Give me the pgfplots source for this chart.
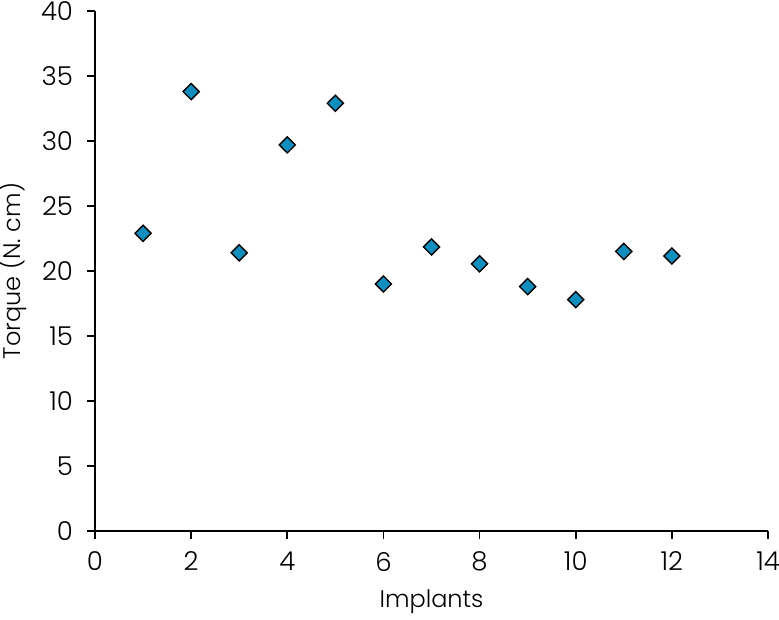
\documentclass[border=0pt]{standalone}
\usepackage{fontspec}
\setmainfont{Poppins}[UprightFont={* Light}]
\usepackage{pgfplots}
\pgfplotsset{compat=1.18}
\definecolor{mk}{HTML}{108EBE}
\begin{document}
\begin{tikzpicture}
\begin{axis}[
  scale only axis, width=336.5pt, height=260pt,
  at={(0,0)}, anchor=south west,
  xmin=0, xmax=14, ymin=0, ymax=40,
  xtick={0,2,...,14}, ytick={0,5,...,40},
  axis x line*=bottom, axis y line*=left,
  axis line style={line width=0.8pt},
  tick style={line width=0.8pt, black},
  tick align=outside,
  major tick length=3.8pt,
  tick label style={font=\fontsize{13}{15}\selectfont, inner sep=0pt},
  yticklabel style={anchor=east, xshift=-7pt},
  xticklabel style={anchor=north, yshift=-6.5pt},
  /pgf/number format/assume math mode=true,
  xlabel={Implants}, ylabel={Torque (N. cm)},
  label style={font=\fontsize{12}{14}\selectfont},
  xlabel style={at={(axis description cs:0.5,-0.148)}, anchor=base},
  ylabel style={at={(axis description cs:-0.1114,0.5)}, anchor=base},
  clip=false,
]
\addplot[only marks, mark=square*, mark size=2.85pt, mark options={rotate=45, fill=mk, draw=black, line width=0.7pt}] coordinates {
(1,22.9) (2,33.8) (3,21.4) (4,29.7) (5,32.9) (6,19.0) (7,21.85) (8,20.55) (9,18.8) (10,17.8) (11,21.5) (12,21.15)
};
\end{axis}
\pgfresetboundingbox
\path[use as bounding box] (-47.5pt,-44pt) rectangle (342pt,265.5pt);
\end{tikzpicture}
\end{document}
